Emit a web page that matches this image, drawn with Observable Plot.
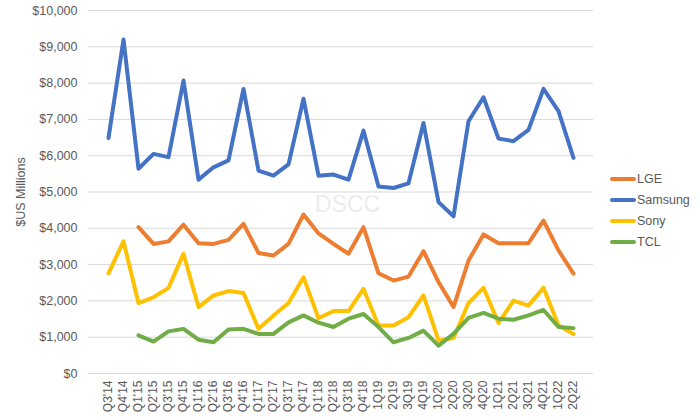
<!DOCTYPE html>
<html><head><meta charset="utf-8">
<script src="https://cdn.jsdelivr.net/npm/d3@7"></script>
<script src="https://cdn.jsdelivr.net/npm/@observablehq/plot@0.6"></script>
<style>
body{margin:0;background:#fff;font-family:"Liberation Sans",Arial,sans-serif;}
#wrap{position:relative;width:700px;height:420px;overflow:hidden;}
#ylab{position:absolute;left:21px;top:192px;transform:translate(-50%,-50%) rotate(-90deg);font-size:12.5px;color:#595959;white-space:nowrap;}
#wm{position:absolute;left:315px;top:193px;font-size:23px;line-height:1;color:#ececec;pointer-events:none;}
#legend{position:absolute;left:610px;top:168px;}
.li{display:flex;align-items:center;height:21.1px;font-size:12.5px;color:#595959;}
.sw{width:26px;height:4px;border-radius:2px;margin-right:1px;}
</style></head><body><div id="wrap"><div id="ylab">$US Millions</div></div>
<script>
const quarters = ["Q3'14","Q4'14","Q1'15","Q2'15","Q3'15","Q4'15","Q1'16","Q2'16","Q3'16","Q4'16","Q1'17","Q2'17","Q3'17","Q4'17","Q1'18","Q2'18","Q3'18","Q4'18","1Q19","2Q19","3Q19","4Q19","1Q20","2Q20","3Q20","4Q20","1Q21","2Q21","3Q21","4Q21","1Q22","2Q22"];
const lge = [null,null,4030,3570,3640,4100,3590,3570,3680,4120,3320,3250,3570,4380,3860,3570,3300,4030,2760,2560,2670,3370,2520,1830,3110,3830,3590,3590,3590,4210,3390,2750];
const samsung = [6490,9200,5640,6050,5960,8070,5340,5680,5870,7840,5590,5450,5760,7570,5450,5480,5340,6690,5150,5110,5240,6900,4720,4330,6950,7610,6470,6400,6710,7840,7230,5940];
const sony = [2760,3640,1940,2100,2360,3300,1830,2150,2270,2220,1230,1600,1940,2650,1520,1720,1720,2330,1320,1320,1550,2150,910,980,1940,2360,1390,2010,1870,2360,1320,1090];
const tcl = [null,null,1050,880,1160,1230,930,860,1210,1230,1090,1090,1410,1600,1400,1280,1510,1640,1280,860,980,1180,770,1090,1530,1670,1510,1480,1600,1750,1280,1250];
const seriesNames = ["LGE","Samsung","Sony","TCL"];
const seriesColors = ["#ED7D31","#4472C4","#FFC000","#70AD47"];
const yTicks = [0,1000,2000,3000,4000,5000,6000,7000,8000,9000,10000];
const watermark = "DSCC";

const seriesValues = [lge, samsung, sony, tcl];
const rows = [];
seriesValues.forEach((vals, si) => vals.forEach((v, i) => {
  if (v != null) rows.push({q: quarters[i], v, s: seriesNames[si]});
}));

const chart = Plot.plot({
  width: 700, height: 420,
  marginLeft: 88, marginRight: 107, marginTop: 10, marginBottom: 47,
  style: {fontFamily: "'Liberation Sans', Arial, sans-serif", fontSize: "12.5px", color: "#595959", background: "white", overflow: "visible"},
  x: {type: "point", domain: quarters, padding: 0.5, label: null},
  y: {domain: [0, 10000], label: null},
  color: {domain: seriesNames, range: seriesColors},
  marks: [
    Plot.gridY(yTicks, {stroke: "#d9d9d9", strokeOpacity: 1, strokeWidth: 1}),
    Plot.axisY(yTicks, {tickSize: 0, tickPadding: 11, tickFormat: d3.format("$,"), label: null}),
    Plot.axisX({tickSize: 0, tickRotate: -90, tickPadding: 7, label: null, fontSize: 12}),
    Plot.line(rows, {x: "q", y: "v", z: "s", stroke: "s", strokeWidth: 4, strokeLinejoin: "round", strokeLinecap: "round"})
  ]
});
const wrap = document.getElementById("wrap");
wrap.insertBefore(chart, wrap.firstChild);

const wm = document.createElement("div");
wm.id = "wm"; wm.textContent = watermark;
wrap.appendChild(wm);

const lg = document.createElement("div");
lg.id = "legend";
seriesNames.forEach((n, i) => {
  const it = document.createElement("div"); it.className = "li";
  const sw = document.createElement("div"); sw.className = "sw"; sw.style.background = seriesColors[i];
  const tx = document.createElement("span"); tx.textContent = n;
  it.appendChild(sw); it.appendChild(tx); lg.appendChild(it);
});
wrap.appendChild(lg);
</script></body></html>
